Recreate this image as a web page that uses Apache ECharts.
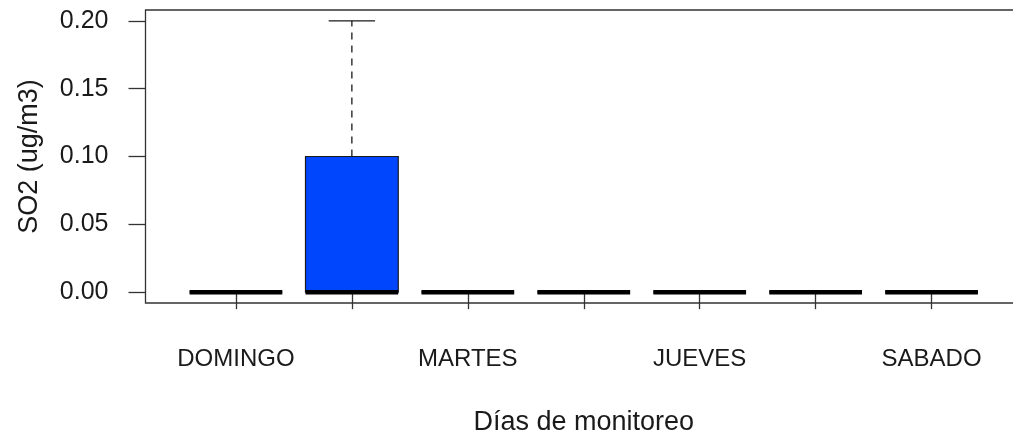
<!DOCTYPE html>
<html>
<head>
<meta charset="utf-8">
<title>SO2 por día de monitoreo</title>
<script src="https://cdn.jsdelivr.net/npm/echarts@6/dist/echarts.min.js"></script>
<style>
  html, body { margin: 0; padding: 0; background: #fff; overflow: hidden; width: 1013px; height: 441px; }
  /* the plot frame runs on past the right edge of the page */
  #chart { width: 1022px; height: 441px; }
</style>
</head>
<body>
<div id="chart"></div>
<script>
// Days of the week (one box per day)
const days = ['DOMINGO', 'LUNES', 'MARTES', 'MIERCOLES', 'JUEVES', 'VIERNES', 'SABADO'];
// Five-number summary per day (SO2, ug/m3)
const whiskerLow  = [0, 0,    0, 0, 0, 0, 0];
const quartile1   = [0, 0,    0, 0, 0, 0, 0];
const medianVal   = [0, 0,    0, 0, 0, 0, 0];
const quartile3   = [0, 0.10, 0, 0, 0, 0, 0];
const whiskerHigh = [0, 0.20, 0, 0, 0, 0, 0];
// Axis ticks
const yTicks = [0, 0.05, 0.10, 0.15, 0.20];
const xTicks = days.map((_, i) => i + 1);
// only every other day name fits under the axis
const xLabelTicks = xTicks.filter((_, i) => i % 2 === 0);

const boxData = days.map((d, i) => [i + 1, whiskerLow[i], quartile1[i], medianVal[i], quartile3[i], whiskerHigh[i]]);

const FONT = '"Liberation Sans", Arial, Helvetica, sans-serif';
const INK = '#1a1a1a';
const BOX_FILL = '#0046fd';

function renderBox(params, api) {
  const x = api.value(0);
  const lo = api.value(1), q1 = api.value(2), med = api.value(3), q3 = api.value(4), hi = api.value(5);
  const boxW = api.size([1, 0])[0] * 0.8;
  const cx = api.coord([x, 0])[0];
  const yLo = api.coord([x, lo])[1];
  const yQ1 = api.coord([x, q1])[1];
  const yMed = api.coord([x, med])[1];
  const yQ3 = api.coord([x, q3])[1];
  const yHi = api.coord([x, hi])[1];
  const whiskerStyle = { stroke: INK, lineWidth: 1.3, lineDash: [7, 6] };
  const stapleStyle = { stroke: INK, lineWidth: 1.3 };
  const children = [];
  if (hi > q3) {
    children.push({ type: 'line', shape: { x1: cx, y1: yQ3, x2: cx, y2: yHi }, style: whiskerStyle });
    children.push({ type: 'line', shape: { x1: cx - boxW / 4, y1: yHi, x2: cx + boxW / 4, y2: yHi }, style: stapleStyle });
  }
  if (lo < q1) {
    children.push({ type: 'line', shape: { x1: cx, y1: yQ1, x2: cx, y2: yLo }, style: whiskerStyle });
    children.push({ type: 'line', shape: { x1: cx - boxW / 4, y1: yLo, x2: cx + boxW / 4, y2: yLo }, style: stapleStyle });
  }
  children.push({
    type: 'rect',
    shape: { x: cx - boxW / 2, y: yQ3, width: boxW, height: yQ1 - yQ3 },
    style: { fill: BOX_FILL, stroke: INK, lineWidth: 1.2 }
  });
  children.push({
    type: 'line',
    shape: { x1: cx - boxW / 2, y1: yMed, x2: cx + boxW / 2, y2: yMed },
    style: { stroke: '#000', lineWidth: 4.5, lineCap: 'butt' }
  });
  return { type: 'group', children };
}

const chart = echarts.init(document.getElementById('chart'), null, { renderer: 'canvas' });
chart.setOption({
  animation: false,
  backgroundColor: '#fff',
  textStyle: { fontFamily: FONT, color: INK },
  grid: {
    left: 145.5, top: 10, right: 0, bottom: 137.5,
    show: true, borderColor: '#333', borderWidth: 1.3, backgroundColor: 'transparent'
  },
  xAxis: {
    type: 'value',
    min: 0.22, max: 7.78,
    name: 'Días de monitoreo',
    nameLocation: 'middle',
    nameGap: 106,
    nameTextStyle: { fontFamily: FONT, fontSize: 27, color: INK },
    axisLine: { show: false },
    splitLine: { show: false },
    axisTick: { show: true, customValues: xTicks, length: 17, lineStyle: { color: '#333', width: 1.3 } },
    axisLabel: {
      customValues: xLabelTicks,
      formatter: v => days[Math.round(v) - 1],
      fontFamily: FONT, fontSize: 24, color: INK, margin: 44
    }
  },
  yAxis: {
    type: 'value',
    min: -0.008, max: 0.208,
    name: 'SO2 (ug/m3)',
    nameLocation: 'middle',
    nameGap: 102,
    nameTextStyle: { fontFamily: FONT, fontSize: 27, color: INK },
    axisLine: { show: false },
    splitLine: { show: false },
    axisTick: { show: true, customValues: yTicks, length: 17, lineStyle: { color: '#333', width: 1.3 } },
    axisLabel: {
      customValues: yTicks,
      formatter: v => v.toFixed(2),
      fontFamily: FONT, fontSize: 25, color: INK, margin: 37
    }
  },
  series: [{
    type: 'custom',
    renderItem: renderBox,
    encode: { x: 0, y: [1, 2, 3, 4, 5] },
    data: boxData,
    clip: false,
    z: 5
  }]
});
</script>
</body>
</html>
